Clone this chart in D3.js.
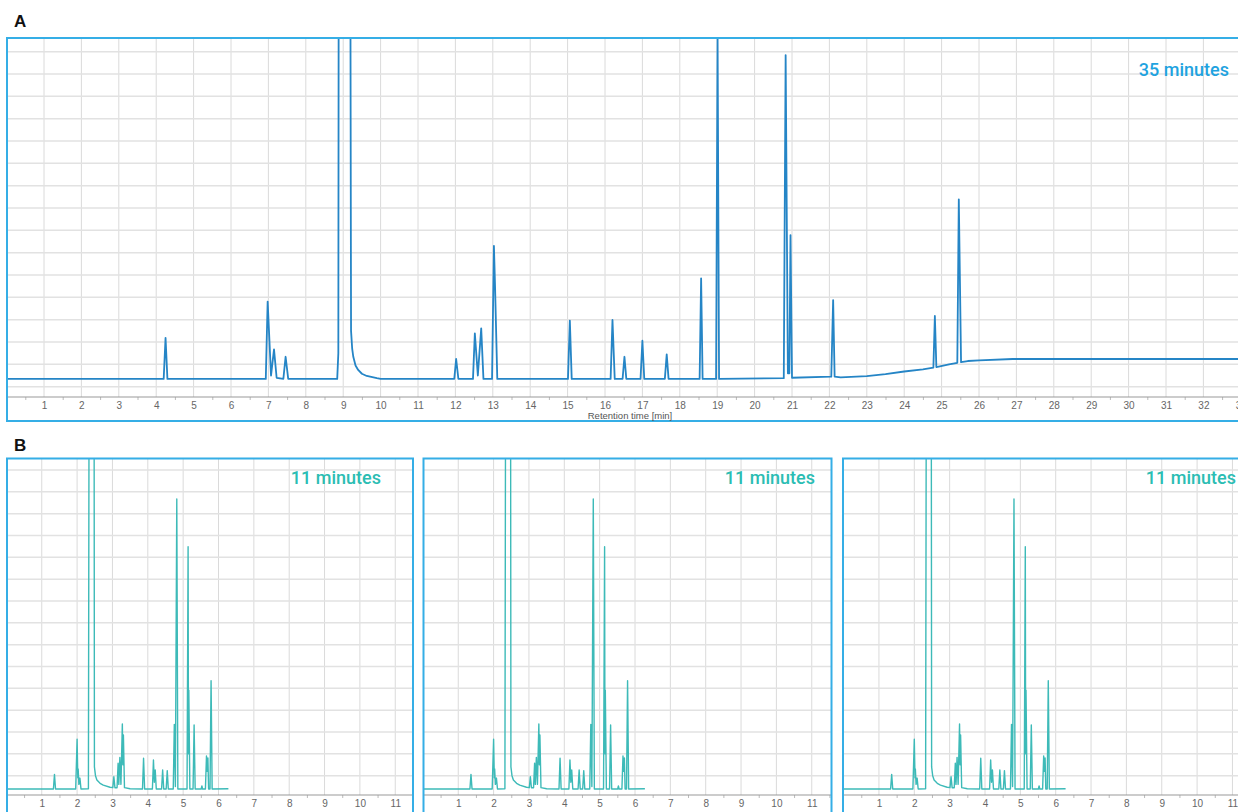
<!DOCTYPE html>
<html>
<head>
<meta charset="utf-8">
<script src="https://cdn.jsdelivr.net/npm/d3@7"></script>
<style>
  body { margin: 0; background: #fff; }
  svg { display: block; }
</style>
</head>
<body>
<div id="chart"></div>
<script>
// chromatogram A (35 min run): [retention time (min), signal in grid units]
var chromA = [
  [0, 0.35], [4.20, 0.35], [4.25, 2.19], [4.30, 0.35],
  [6.93, 0.35], [6.98, 3.81], [7.07, 0.5], [7.15, 1.67], [7.22, 0.4], [7.40, 0.35], [7.46, 1.34], [7.53, 0.35],
  [8.84, 0.35], [8.87, 1.5], [8.88, 20], [9.19, 20], [9.21, 2.5], [9.24, 1.7], [9.27, 1.34], [9.33, 0.95],
  [9.40, 0.75], [9.50, 0.58], [9.63, 0.48], [9.90, 0.38], [10.0, 0.35],
  [11.97, 0.35], [12.02, 1.24], [12.08, 0.35], [12.47, 0.35], [12.52, 2.39], [12.60, 0.5], [12.69, 2.61], [12.75, 0.35],
  [12.98, 0.35], [13.03, 6.31], [13.06, 4.5], [13.12, 0.35],
  [15.01, 0.35], [15.06, 2.96], [15.11, 0.35], [16.15, 0.35], [16.20, 2.99], [16.26, 0.35],
  [16.47, 0.35], [16.52, 1.34], [16.57, 0.35], [16.95, 0.35], [17.00, 2.06], [17.05, 0.35],
  [17.60, 0.35], [17.65, 1.45], [17.70, 0.35], [18.53, 0.35], [18.57, 4.85], [18.61, 0.35],
  [18.97, 0.35], [19.01, 15.8], [19.05, 0.35],
  [20.78, 0.38], [20.83, 14.85], [20.89, 0.6], [20.93, 0.6], [20.96, 6.79], [21.00, 0.4],
  [22.05, 0.45], [22.10, 3.88], [22.14, 0.45], [22.30, 0.42], [23.0, 0.47], [23.5, 0.56], [24.0, 0.68],
  [24.5, 0.78], [24.78, 0.85], [24.82, 3.17], [24.86, 0.88], [25.2, 1.0], [25.42, 1.07], [25.46, 8.39],
  [25.52, 1.1], [25.7, 1.15], [26.0, 1.18], [26.9, 1.24], [35, 1.24]
];

// chromatogram B (11 min run), same trace in all three panels
var chromB = [
  [0, 0.39], [1.33, 0.39], [1.36, 1.06], [1.39, 0.39],
  [1.96, 0.39], [2.00, 2.67], [2.02, 0.9], [2.03, 1.31], [2.05, 0.6], [2.08, 0.89], [2.11, 0.39],
  [2.32, 0.4], [2.34, 20], [2.48, 20], [2.49, 1.4], [2.52, 1.0], [2.56, 0.8], [2.65, 0.65], [2.74, 0.57],
  [2.93, 0.47], [3.01, 0.45], [3.04, 0.95], [3.07, 0.45], [3.13, 0.45], [3.16, 1.57], [3.18, 0.6],
  [3.21, 1.84], [3.24, 0.6], [3.28, 3.37], [3.295, 1.5], [3.31, 2.86], [3.34, 0.45], [3.50, 0.4],
  [3.85, 0.39], [3.88, 1.80], [3.91, 0.39], [4.13, 0.39], [4.16, 1.72], [4.185, 0.7], [4.21, 1.26], [4.24, 0.39],
  [4.39, 0.39], [4.42, 1.26], [4.45, 0.39], [4.52, 0.39], [4.55, 1.23], [4.58, 0.39],
  [4.72, 0.39], [4.75, 3.35], [4.78, 0.5], [4.82, 13.67], [4.85, 0.39],
  [5.11, 0.39], [5.14, 11.49], [5.15, 2.0], [5.16, 4.92], [5.19, 0.39], [5.28, 0.39], [5.31, 3.32], [5.34, 0.39],
  [5.51, 0.39], [5.53, 0.53], [5.55, 0.39], [5.63, 0.39], [5.66, 1.90], [5.68, 1.2], [5.70, 1.81], [5.72, 0.39],
  [5.76, 0.39], [5.79, 5.35], [5.82, 0.39], [6.28, 0.4]
];

var ticksA = d3.range(1, 34);      // minute labels, run A (33 is cut at the edge)
var ticksB = d3.range(1, 12);      // minute labels, run B
var gridA = d3.range(0, 16);       // horizontal grid levels
var gridB = d3.range(1, 16);
var titleA = "35 minutes";
var titleB = ["11 minutes", "11 minutes", "11 minutes"];
var panelLetters = ["A", "B"];

var w = 1238, h = 812;
var frameColor = "#35aee6";
var gridColor = "#dadada";
var lineA = "#2585c6", lineB = "#3dbab8";

var svg = d3.select("#chart").append("svg").attr("width", w).attr("height", h);
svg.append("rect").attr("width", w).attr("height", h).attr("fill", "#fff");

// panel letters
svg.append("text").text(panelLetters[0])
    .attr("x", 14).attr("y", 27)
    .attr("font-family", "Liberation Sans, Arial, sans-serif").attr("font-weight", "bold")
    .attr("font-size", 17).attr("fill", "#111");
svg.append("text").text(panelLetters[1])
    .attr("x", 14).attr("y", 451)
    .attr("font-family", "Liberation Sans, Arial, sans-serif").attr("font-weight", "bold")
    .attr("font-size", 17).attr("fill", "#111");

// draws one chromatogram panel
function drawPanel(opt) {
    var g = svg.append("g");
    var x = d3.scaleLinear().domain([0, opt.xmax]).range([opt.x0, opt.x0 + opt.xmax * opt.pxPerMin]);
    var y = d3.scaleLinear().domain([0, 15]).range([opt.y0, opt.y15]);

    var clipId = "clip" + opt.id;
    svg.append("clipPath").attr("id", clipId)
        .append("rect")
        .attr("x", opt.left).attr("y", opt.top)
        .attr("width", opt.right - opt.left).attr("height", opt.axisY - opt.top);

    var grid = g.append("g").attr("clip-path", "url(#" + clipId + ")");
    // vertical grid at each minute
    grid.selectAll("line.v").data(d3.range(1, Math.ceil(opt.xmax))).enter().append("line")
        .attr("x1", function (d) { return x(d); })
        .attr("x2", function (d) { return x(d); })
        .attr("y1", opt.top).attr("y2", opt.axisY)
        .attr("stroke", gridColor).attr("stroke-width", 1);
    // horizontal grid
    grid.selectAll("line.h").data(opt.gridY).enter().append("line")
        .attr("x1", opt.left).attr("x2", opt.right)
        .attr("y1", function (d) { return y(d); })
        .attr("y2", function (d) { return y(d); })
        .attr("stroke", "#e2e2e2").attr("stroke-width", 1.5);

    // axis with labels
    var axis = d3.axisBottom(x).tickValues(opt.ticks).tickSize(0).tickPadding(opt.pad)
        .tickFormat(d3.format("d"));
    var ax = g.append("g").attr("transform", "translate(0," + opt.axisY + ")").call(axis);
    ax.select(".domain").remove();
    ax.selectAll("text").attr("fill", "#666").attr("font-size", 10)
        .attr("font-family", "Liberation Sans, Arial, sans-serif");

    // minor half-minute ticks
    var halves = d3.range(0.5, opt.xmax, 1);
    var minor = d3.axisBottom(x).tickValues(halves).tickSize(3).tickFormat("");
    var mx = g.append("g").attr("transform", "translate(0," + opt.axisY + ")").call(minor);
    mx.select(".domain").remove();
    mx.selectAll("line").attr("stroke", "#bbb");

    g.append("line")
        .attr("x1", opt.left).attr("x2", opt.right)
        .attr("y1", opt.axisY).attr("y2", opt.axisY)
        .attr("stroke", "#999").attr("stroke-width", 1);

    // trace
    var line = d3.line()
        .x(function (d) { return x(d[0]); })
        .y(function (d) { return y(d[1]); });
    g.append("path").datum(opt.data)
        .attr("clip-path", "url(#" + clipId + ")")
        .attr("d", line)
        .attr("fill", "none")
        .attr("stroke", opt.color)
        .attr("stroke-width", opt.lw)
        .attr("stroke-linejoin", "round");

    // frame
    g.append("rect")
        .attr("x", opt.left).attr("y", opt.top)
        .attr("width", opt.right - opt.left).attr("height", opt.bottom - opt.top)
        .attr("fill", "none").attr("stroke", frameColor).attr("stroke-width", 2);

    // run length label
    g.append("text").text(opt.title)
        .attr("x", opt.titleX).attr("y", opt.titleY)
        .attr("text-anchor", "end")
        .attr("font-family", "Roboto, sans-serif").attr("font-weight", 500)
        .attr("font-size", 18).attr("fill", opt.titleColor);
    return g;
}

var gA = drawPanel({
    id: "A", data: chromA, xmax: 35, pxPerMin: 37.4, x0: 6.6,
    y0: 386.7, y15: 51.7, gridY: gridA, ticks: ticksA, pad: 5,
    left: 7, right: 1300, top: 38, bottom: 421, axisY: 397,
    color: lineA, lw: 1.8, title: titleA, titleX: 1229, titleY: 76, titleColor: "#1fa3e0"
});
gA.append("text").text("Retention time [min]")
    .attr("x", 630).attr("y", 419)
    .attr("text-anchor", "middle")
    .attr("font-family", "Liberation Sans, Arial, sans-serif")
    .attr("font-size", 9.5).attr("fill", "#555");

var bLayout = [
    { x0: 6.4, left: 7, right: 413, titleX: 381 },
    { x0: 422.9, left: 423.5, right: 831.5, titleX: 815 },
    { x0: 843.6, left: 843, right: 1251, titleX: 1236 }
];
bLayout.forEach(function (p, i) {
    drawPanel({
        id: "B" + i, data: chromB, xmax: 11.55, pxPerMin: 35.35, x0: p.x0,
        y0: 797.5, y15: 470, gridY: gridB, ticks: ticksB, pad: 5,
        left: p.left, right: p.right, top: 458.5, bottom: 860, axisY: 795,
        color: lineB, lw: 1.4, title: titleB[i], titleX: p.titleX, titleY: 484, titleColor: "#2bbdb3"
    });
});
</script>
</body>
</html>
